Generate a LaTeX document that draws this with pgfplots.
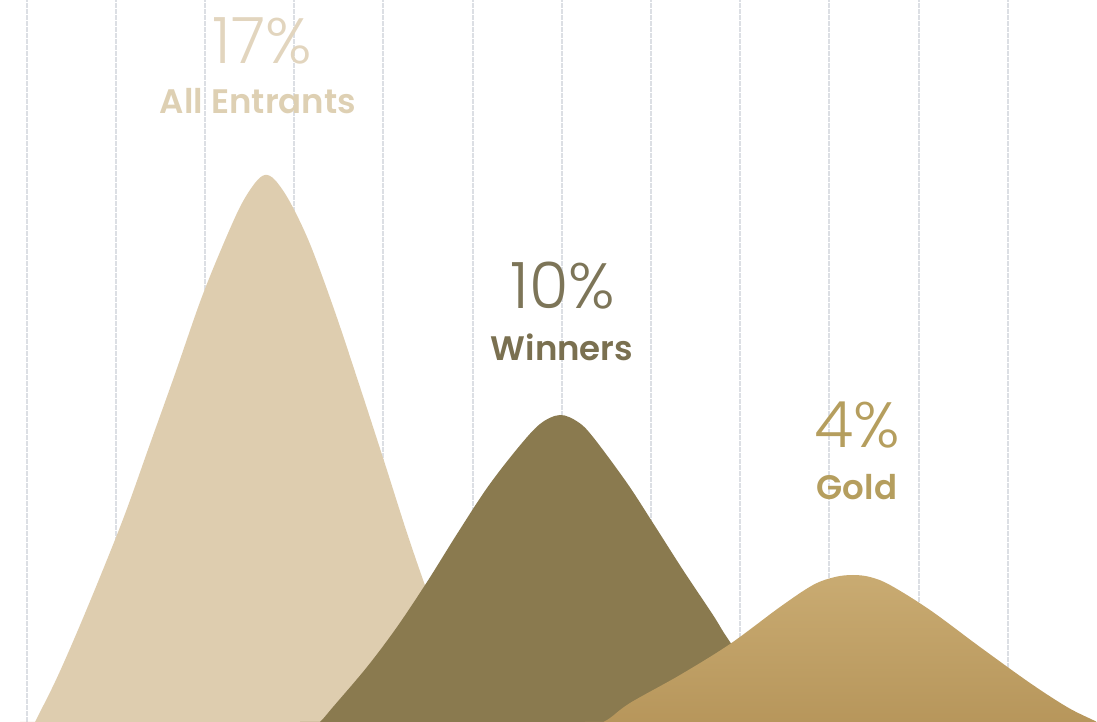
\documentclass[border=0pt]{standalone}
\usepackage{fontspec}
\setmainfont{Poppins}
\newfontfamily\pthin{Poppins Light}
\newfontfamily\pbold{Poppins SemiBold}
\usepackage{pgfplots}
\pgfplotsset{compat=1.18}
\definecolor{tanc}{HTML}{DECDAF}
\definecolor{darkc}{HTML}{8A7A4F}
\definecolor{goldtop}{HTML}{C9AB72}
\definecolor{goldbot}{HTML}{B6955A}
\definecolor{gridc}{HTML}{DCDFE4}
\definecolor{t17}{HTML}{E2D5BE}
\definecolor{tall}{HTML}{DED0B3}
\definecolor{t10}{HTML}{7D7558}
\definecolor{twin}{HTML}{7A7050}
\definecolor{tgold}{HTML}{B59E5E}
\begin{document}
\begin{tikzpicture}
\begin{axis}[
  scale only axis, width=548.5pt, height=361pt,
  xmin=0, xmax=1097, ymin=0, ymax=722,
  axis line style={draw=none},
  xtick={26.5,115.7,204.9,294.1,383.3,472.5,561.7,650.9,740.1,829.3,918.5,1007.7},
  ytick=\empty, xticklabels={}, xtick style={draw=none},
  xmajorgrids, grid style={color=gridc, line width=1pt, dash pattern=on 2.5pt off 0.5pt},
  clip=true,
]
% All Entrants
\addplot[draw=none, fill=tanc, smooth, tension=0.55] coordinates {
(20,-30) (35,0) (55,40) (75,85) (100,145) (125,208) (150,278) (175,348) (200,420)
(220,470) (240,515) (255,539) (265,547) (275,542) (290,520) (310,478) (335,410)
(360,335) (385,258) (410,180) (435,110) (460,55) (485,18) (510,-5) (530,-20)} \closedcycle;
% Winners
\addplot[draw=none, fill=darkc, smooth, tension=0.55] coordinates {
(300,-18) (320,0) (333,15) (367,55) (397,95) (427,140) (457,188) (487,234) (517,273)
(540,298) (560,307) (578,300) (593,285) (627,239) (653,199) (683,152) (713,107)
(728,83) (760,38) (790,10) (820,-10)} \closedcycle;
% Gold
\addplot[draw=none, top color=goldtop, bottom color=goldbot, smooth, tension=0.55] coordinates {
(585,-8) (607,2) (630,19) (680,47) (730,78) (780,115) (813,137) (835,145) (853,147)
(870,145) (890,137) (930,112) (980,75) (1030,39) (1067,15) (1093,2) (1115,-8)} \closedcycle;
\node[font=\pthin\fontsize{32}{32}\selectfont, text=t17] at (axis cs:262,681) {17\%};
\node[font=\pbold\fontsize{17}{17}\selectfont, text=tall] at (axis cs:258,621) {All Entrants};
\node[font=\pthin\fontsize{32}{32}\selectfont, text=t10] at (axis cs:563,436) {10\%};
\node[font=\pbold\fontsize{17}{17}\selectfont, text=twin] at (axis cs:562,375) {Winners};
\node[font=\pthin\fontsize{32}{32}\selectfont, text=tgold] at (axis cs:857,297) {4\%};
\node[font=\pbold\fontsize{17}{17}\selectfont, text=tgold] at (axis cs:857,235) {Gold};
\end{axis}
\pgfresetboundingbox
\useasboundingbox (current axis.south west) rectangle (current axis.north east);
\end{tikzpicture}
\end{document}
